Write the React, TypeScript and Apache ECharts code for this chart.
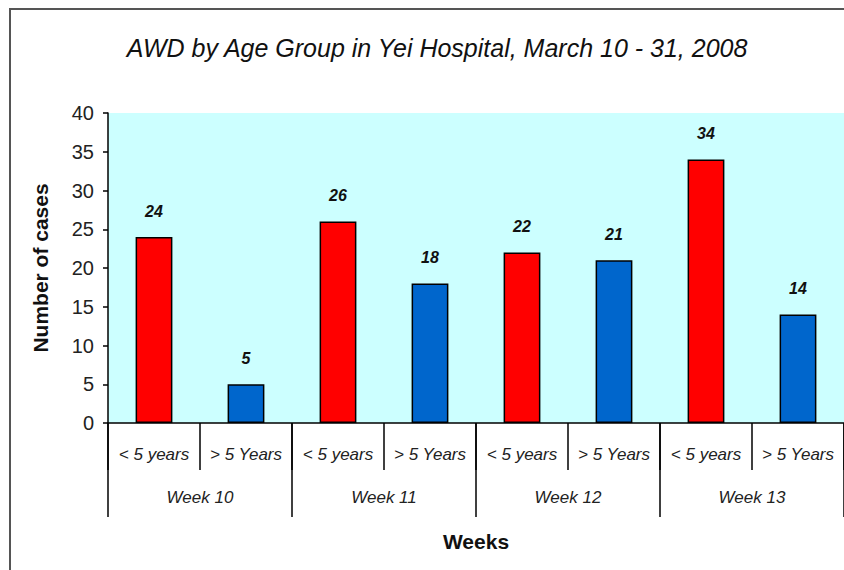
import React, { useEffect, useRef } from "react";
import * as echarts from "echarts";

const weeks = ["Week 10", "Week 11", "Week 12", "Week 13"];
const ageGroups = ["< 5 years", "> 5 Years"];
const under5 = [24, 26, 22, 34];
const over5 = [5, 18, 21, 14];
const yTicks = { min: 0, max: 40, interval: 5 };

const FONT = "'Liberation Sans', Arial, sans-serif";

export default function App() {
  const ref = useRef<HTMLDivElement>(null);
  useEffect(() => {
    if (!ref.current) return;
    const chart = echarts.init(ref.current, undefined, { renderer: "svg" });
    const categories: string[] = [];
    const values: any[] = [];
    weeks.forEach((w, i) => {
      categories.push(ageGroups[0]);
      values.push({ value: under5[i], itemStyle: { color: "#FF0000" } });
      categories.push(ageGroups[1]);
      values.push({ value: over5[i], itemStyle: { color: "#0066CC" } });
    });
    chart.setOption({
      animation: false,
      backgroundColor: "#ffffff",
      textStyle: { fontFamily: FONT },
      title: {
        text: "AWD by Age Group in Yei Hospital, March 10 - 31, 2008",
        left: 432,
        top: 30,
        textAlign: "center",
        textStyle: { fontFamily: FONT, fontSize: 25, fontStyle: "italic", fontWeight: "normal", color: "#111" },
      },
      graphic: [
        { type: "line", shape: { x1: 9, y1: 9, x2: 844, y2: 9 }, style: { stroke: "#555", lineWidth: 2 } },
        { type: "line", shape: { x1: 10, y1: 8, x2: 10, y2: 570 }, style: { stroke: "#555", lineWidth: 2 } },
      ],
      grid: {
        left: 108,
        top: 113,
        right: -2,
        bottom: 147,
        show: true,
        backgroundColor: "#CCFFFF",
        borderWidth: 0,
        containLabel: false,
      },
      xAxis: [
        {
          type: "category",
          data: categories,
          position: "bottom",
          axisLine: { show: true, lineStyle: { color: "#000", width: 1.5 } },
          axisTick: { show: true, length: 47, interval: 0, lineStyle: { color: "#000", width: 1.5 } },
          axisLabel: { interval: 0, margin: 23, fontSize: 17, fontStyle: "italic", color: "#222", fontFamily: FONT },
        },
        {
          type: "category",
          data: weeks,
          position: "bottom",
          axisLine: { show: false },
          axisTick: { show: true, length: 94, interval: 0, lineStyle: { color: "#000", width: 1.5 } },
          axisLabel: { interval: 0, margin: 66, fontSize: 17, fontStyle: "italic", color: "#222", fontFamily: FONT },
          name: "Weeks",
          nameLocation: "middle",
          nameGap: 108,
          nameTextStyle: { fontSize: 21, fontWeight: "bold", color: "#111", fontFamily: FONT },
        },
      ],
      yAxis: {
        type: "value",
        min: yTicks.min,
        max: yTicks.max,
        interval: yTicks.interval,
        splitLine: { show: false },
        axisLine: { show: true, lineStyle: { color: "#000", width: 1.5 } },
        axisTick: { show: true, inside: false, length: 5, lineStyle: { color: "#000", width: 1.5 } },
        axisLabel: { margin: 14, fontSize: 20, color: "#222", fontFamily: FONT },
        name: "Number of cases",
        nameLocation: "middle",
        nameGap: 57,
        nameRotate: 90,
        nameTextStyle: { fontSize: 21, fontWeight: "bold", color: "#111", fontFamily: FONT },
      },
      series: [
        {
          type: "bar",
          xAxisIndex: 0,
          data: values,
          barWidth: "40%",
          itemStyle: { borderColor: "#000", borderWidth: 1.5 },
          label: {
            show: true,
            position: "top",
            distance: 18,
            fontSize: 16,
            fontStyle: "italic",
            fontWeight: "bold",
            color: "#111",
            fontFamily: FONT,
          },
        },
      ],
    });
    return () => chart.dispose();
  }, []);
  return (
    <div
      ref={ref}
      style={{ position: "absolute", left: 0, top: 0, width: 844, height: 570 }}
    />
  );
}
